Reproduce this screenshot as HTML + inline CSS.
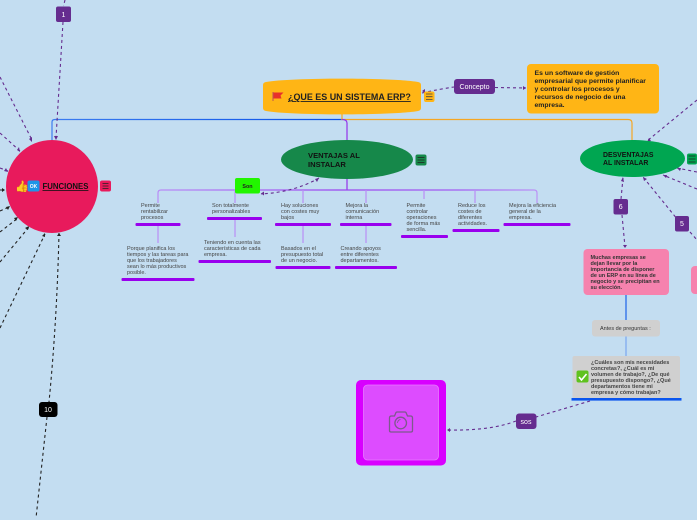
<!DOCTYPE html>
<html><head><meta charset="utf-8"><style>
html,body{margin:0;padding:0;width:697px;height:520px;overflow:hidden;background:#c3ddf1}
svg{display:block;font-family:"Liberation Sans",sans-serif}
.t{font-size:5.5px;fill:#444}
.d{fill:none;stroke:#652c8f;stroke-width:1.1;stroke-dasharray:3 3}
.k{fill:none;stroke:#222;stroke-width:1.1;stroke-dasharray:3 3}
.p{fill:none;stroke:url(#pg);stroke-width:1.200}
.v{fill:none;stroke:#b98ef5;stroke-width:1.200}
.b{fill:#9900ee}
.w{fill:#fff;font-size:7px;text-anchor:middle}
.n{font-size:7.600px;font-weight:bold;fill:#111}
.m{font-size:6.900px;font-weight:bold;fill:#111}
</style></head><body>
<svg width="697" height="520" viewBox="0 0 697 520" xmlns="http://www.w3.org/2000/svg">
<defs>
<linearGradient id="pg" gradientUnits="userSpaceOnUse" x1="142" y1="0" x2="537" y2="0">
<stop offset="0" stop-color="#bb92f6"/><stop offset=".5" stop-color="#9b45f0"/><stop offset=".8" stop-color="#a35cf2"/><stop offset="1" stop-color="#bb92f6"/>
</linearGradient>
<linearGradient id="bg" gradientUnits="userSpaceOnUse" x1="52" y1="0" x2="342" y2="0">
<stop offset="0" stop-color="#3b7cf0"/><stop offset="1" stop-color="#0a50e8"/>
</linearGradient>
</defs>
<rect width="697" height="520" fill="#c3ddf1"/>
<!-- solid connectors -->
<path d="M52 140V122Q52 119.500 55 119.500H342" fill="none" stroke="url(#bg)" stroke-width="1.200"/>
<path d="M342 114V119.500H628Q632 119.500 632 123V141" fill="none" stroke="#f5a623" stroke-width="1.200"/>
<path d="M342 119.500Q347 119.500 347 123V141" fill="none" stroke="#9333ea" stroke-width="1.200"/>
<path d="M347 179V190" fill="none" stroke="#9333ea" stroke-width="1.200"/>
<path class="p" d="M158 203V193Q158 190 161 190H534Q537 190 537 193V203"/>
<path class="v" d="M235 190V203M303 190V203M366 190V203M424 190V199M475 190V203"/>
<path class="v" d="M158 226V243M235 220V237M303 226V243M366 226V243"/>
<path d="M626 295V321" stroke="#1a62e8" stroke-width="1.200" fill="none"/>
<path d="M626 336V356" stroke="#7aa7f0" stroke-width="1.200" fill="none"/>
<!-- dashed connectors -->
<path class="d" d="M65 0L63.500 6M63 22L56 138"/>
<path class="d" d="M0 77L32 140M0 133L20 151M0 168L8 171"/>
<path class="k" d="M0 190H5M0 211L9 207M0 232L18 218M0 262L29 227M0 328L45 234"/>
<path class="k" d="M59 233Q57 320 49 402M47 417L36 518"/>
<path class="d" d="M422 93Q440 89 454 87M495 87.500L526 88"/>
<path class="d" d="M697 100L647 141"/>
<path class="d" d="M697 172L677 168M697 189L663 175M690 232L697 240M675.500 217L643 177"/>
<path class="d" d="M623 178L621 199M622 215L625 247"/>
<path class="d" d="M319 178Q295 192 261 194"/>
<path class="d" d="M590 401L536 417M516 421Q490 431 447 430"/>
<!-- arrowheads -->
<g fill="#652c8f">
<path d="M56 140l-2-4h4zM32 142l-3-3 3-2zM20 152l-3-2 2-3zM8 172l-4-1 2-3zM526 88l-3-2v4zM422 91l3-2v4zM647 142l4-1-2-3zM623 177l-2 4 3 1zM643 177l1 4 3-2zM677 168l3 3 1-3zM663 175l3 3 1-3zM625 248l-2-3h4zM319 178l-4 1 2 3zM261 193.500l3-2v4zM447 430l3-2v4z"/>
</g>
<g fill="#222">
<path d="M5 190l-3-2v4zM10 206l-4 1 2 3zM18 217l-4 1 2 3zM29 226l-4 2 3 2zM45 233l-3 3 3 1zM59 233l-2 3h4z"/>
</g>
<!-- badges -->
<rect x="56" y="6.500" width="15" height="15.500" rx="2" fill="#652c8f"/><text x="63.500" y="17" class="w">1</text>
<rect x="39" y="402" width="18.500" height="15" rx="3" fill="#000"/><text x="48" y="412" class="w">10</text>
<rect x="613.500" y="199" width="14.500" height="15.500" rx="2" fill="#652c8f"/><text x="620.700" y="209" class="w">6</text>
<rect x="675" y="216" width="14" height="15.500" rx="2" fill="#652c8f"/><text x="682" y="226" class="w">5</text>
<rect x="454" y="79" width="41" height="15" rx="3" fill="#652c8f"/><text x="474.500" y="89" class="w">Concepto</text>
<rect x="516" y="413.500" width="20.500" height="15.500" rx="3" fill="#652c8f"/><text x="526" y="424" class="w">sos</text>
<!-- FUNCIONES -->
<ellipse cx="52" cy="186.500" rx="46" ry="46.500" fill="#e81a5c"/>
<text x="15" y="190" font-size="11" font-family="'DejaVu Sans',sans-serif" fill="#f5b942">👍</text>
<rect x="27.500" y="180.500" width="12" height="11" rx="2" fill="#1e96e8"/><text x="33.500" y="188" font-size="5" font-weight="bold" fill="#fff" text-anchor="middle">OK</text>
<text x="42.500" y="189" font-size="7.800" font-weight="bold" fill="#111" text-decoration="underline">FUNCIONES</text>
<rect x="100" y="180.500" width="11" height="11" rx="2" fill="#e81a5c"/>
<path d="M102.500 183.500h6M102.500 186h6M102.500 188.500h6" stroke="#222" stroke-width=".8"/>
<!-- Title -->
<path d="M266 82C290 77.500 394 77.500 418 82Q421 82.500 421 85V108Q421 110.500 418 111C394 115.500 290 115.500 266 111Q263 110.500 263 108V85Q263 82.500 266 82Z" fill="#ffb515"/>
<path d="M273 92v9" stroke="#b55" stroke-width="1"/><path d="M273.500 92.500h10l-3 3 1 3h-8z" fill="#e8302a"/>
<text x="288" y="100" font-size="8.950" font-weight="bold" fill="#222" text-decoration="underline">¿QUE ES UN SISTEMA ERP?</text>
<rect x="424" y="91.500" width="10.500" height="10.500" rx="2" fill="#ffb515"/>
<path d="M426 94h6.500M426 96.700h6.500M426 99.400h6.500" stroke="#444" stroke-width=".8"/>
<!-- Concept box -->
<rect x="527" y="64" width="132" height="49.500" rx="4" fill="#ffb515"/>
<g font-size="6.850" font-weight="bold" fill="#222">
<text x="534.500" y="75">Es un software de gestión</text>
<text x="534.500" y="83">empresarial que permite planificar</text>
<text x="534.500" y="91">y controlar los procesos y</text>
<text x="534.500" y="99">recursos de negocio de una</text>
<text x="534.500" y="107">empresa.</text>
</g>
<!-- Ventajas -->
<ellipse cx="347" cy="159.500" rx="66" ry="19.500" fill="#16884a"/>
<text x="308" y="158" class="n">VENTAJAS AL</text>
<text x="308" y="167" class="n">INSTALAR</text>
<rect x="415.500" y="154.500" width="11" height="11" rx="2" fill="#16884a"/>
<path d="M417.500 157.500h7M417.500 160h7M417.500 162.500h7" stroke="#222" stroke-width=".8"/>
<!-- Desventajas -->
<ellipse cx="632.500" cy="158.500" rx="52.500" ry="18.500" fill="#00a651"/>
<text x="603" y="157" class="m">DESVENTAJAS</text>
<text x="603" y="165" class="m">AL INSTALAR</text>
<rect x="687" y="153.500" width="10" height="11" rx="2" fill="#00a651"/>
<path d="M688.500 156h7M688.500 159h7M688.500 162h7" stroke="#222" stroke-width=".8"/>
<!-- Son -->
<rect x="235" y="178" width="25" height="15.500" rx="2" fill="#22f500"/>
<text x="247.500" y="188" font-size="5.400" font-weight="bold" fill="#222" text-anchor="middle">Son</text>
<!-- Ventajas items -->
<g class="t">
<text x="141" y="207">Permite</text><text x="141" y="213">rentabilizar</text><text x="141" y="219">procesos</text>
<text x="212" y="207">Son totalmente</text><text x="212" y="213">personalizables</text>
<text x="281" y="207">Hay soluciones</text><text x="281" y="213">con costes muy</text><text x="281" y="219">bajos</text>
<text x="345.500" y="207">Mejora la</text><text x="345.500" y="213">comunicación</text><text x="345.500" y="219">interna</text>
<text x="406.500" y="207">Permite</text><text x="406.500" y="213">controlar</text><text x="406.500" y="219">operaciones</text><text x="406.500" y="225">de forma más</text><text x="406.500" y="231">sencilla.</text>
<text x="458" y="207">Reduce los</text><text x="458" y="213">costes de</text><text x="458" y="219">diferentes</text><text x="458" y="225">actividades.</text>
<text x="509" y="207">Mejora la eficiencia</text><text x="509" y="213">general de la</text><text x="509" y="219">empresa.</text>
<text x="127" y="250">Porque planifica los</text><text x="127" y="256">tiempos y las tareas para</text><text x="127" y="262">que los trabajadores</text><text x="127" y="268">sean lo más productivos</text><text x="127" y="274">posible.</text>
<text x="204" y="244">Teniendo en cuenta las</text><text x="204" y="250">características de cada</text><text x="204" y="256">empresa.</text>
<text x="281" y="250">Basados en el</text><text x="281" y="256">presupuesto total</text><text x="281" y="262">de un negocio.</text>
<text x="340.500" y="250">Creando apoyos</text><text x="340.500" y="256">entre diferentes</text><text x="340.500" y="262">departamentos.</text>
</g>
<g class="b">
<rect x="135.500" y="223" width="45" height="3" rx="1"/>
<rect x="207" y="217" width="55" height="3" rx="1"/>
<rect x="275" y="223" width="56" height="3" rx="1"/>
<rect x="340" y="223" width="51.500" height="3" rx="1"/>
<rect x="401" y="235" width="47" height="3" rx="1"/>
<rect x="452.500" y="229" width="47" height="3" rx="1"/>
<rect x="503.500" y="223" width="67" height="3" rx="1"/>
<rect x="121.500" y="278" width="73" height="3" rx="1"/>
<rect x="198.500" y="260" width="72.500" height="3" rx="1"/>
<rect x="275.500" y="266" width="55" height="3" rx="1"/>
<rect x="335" y="266" width="62" height="3" rx="1"/>
</g>
<!-- Pink -->
<rect x="583.500" y="249" width="85.500" height="46" rx="4" fill="#f682ae"/>
<g font-size="5.500" font-weight="bold" fill="#333">
<text x="590.500" y="259">Muchas empresas se</text>
<text x="590.500" y="265">dejan llevar por la</text>
<text x="590.500" y="271">importancia de disponer</text>
<text x="590.500" y="277">de un ERP en su línea de</text>
<text x="590.500" y="283">negocio y se precipitan en</text>
<text x="590.500" y="289">su elección.</text>
</g>
<rect x="691" y="266" width="10" height="28" rx="4" fill="#f682ae"/>
<!-- Grey -->
<rect x="592" y="320" width="68" height="16.500" rx="3" fill="#d0d0d0"/>
<text x="600" y="330" font-size="5.500" fill="#333">Antes de  preguntas :</text>
<rect x="572.500" y="356" width="107.500" height="43" rx="2" fill="#d0d0d0"/>
<rect x="571.500" y="398" width="110" height="2.600" fill="#0a55ee"/>
<rect x="576.500" y="370.500" width="12" height="12" rx="2" fill="#5fc21e"/>
<path d="M579 377l2.500 3 5-6" fill="none" stroke="#fff" stroke-width="1.600"/>
<g font-size="5.500" font-weight="bold" fill="#444">
<text x="591" y="364">¿Cuáles son mis necesidades</text>
<text x="591" y="370">concretas?, ¿Cuál es mi</text>
<text x="591" y="376">volumen de trabajo?, ¿De qué</text>
<text x="591" y="382">presupuesto dispongo?, ¿Qué</text>
<text x="591" y="388">departamentos tiene mi</text>
<text x="591" y="394">empresa y cómo trabajan?</text>
</g>
<!-- Image -->
<rect x="356" y="380" width="90" height="85.500" rx="5" fill="#d800ff"/>
<rect x="363.500" y="385" width="75" height="75" rx="4" fill="#dd4cff" stroke="#e77aff" stroke-width=".8"/>
<path d="M389.500 430.500V418q0-2 2-2h3l1.500-3.500q.5-.5 1-.5h8q.5 0 1 .5l1.500 3.500h3q2 0 2 2v12.500q0 1.500-1.500 1.500h-20q-1.500 0-1.500-1.500z" fill="none" stroke="#7d5a8c" stroke-width="1.300"/>
<circle cx="400.700" cy="423" r="5.800" fill="none" stroke="#7d5a8c" stroke-width="1.300"/>
<path d="M397.500 423a3.500 3.500 0 0 1 3-3.500" fill="none" stroke="#7d5a8c" stroke-width=".8"/>
</svg>
</body></html>
